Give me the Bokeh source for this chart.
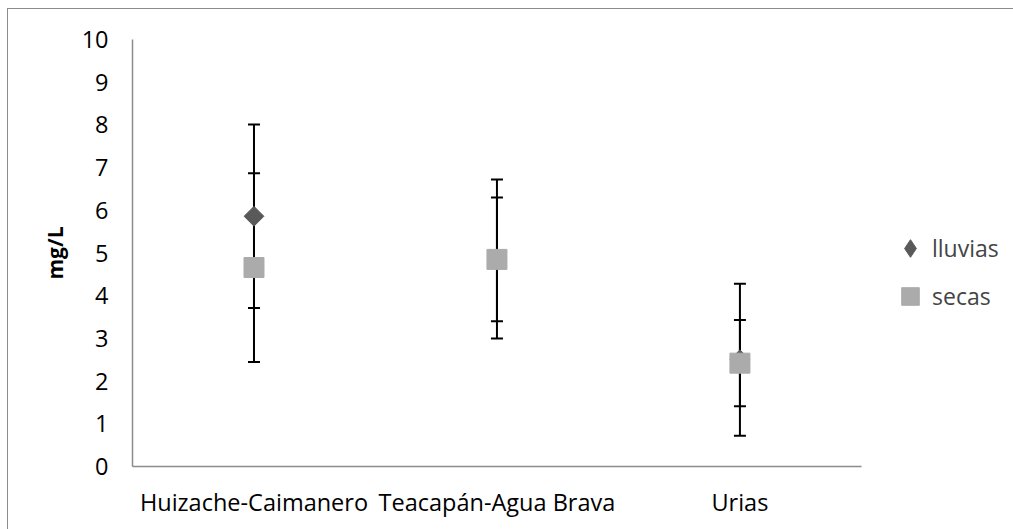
import math

from bokeh.embed import file_html
from bokeh.models import (ColumnDataSource, FixedTicker, Legend, LegendItem,
                          Range1d, TeeHead, Whisker)
from bokeh.plotting import figure
from bokeh.resources import INLINE

# Dissolved concentration (mg/L) per lagoon system, rainy vs dry season
sites = ["Huizache-Caimanero", "Teacapán-Agua Brava", "Urias"]
lluvias = [5.86, 4.86, 2.50]
lluvias_err = [2.15, 1.86, 1.78]
secas = [4.66, 4.85, 2.42]
secas_err = [2.21, 1.45, 1.01]
y_ticks = list(range(0, 11))

FONT = "Open Sans"
AXIS_GREY = "#8c8c8c"
LLUVIAS_COLOR = "#595959"
SECAS_COLOR = "#ababab"

# one unit per site, sites centred in their slots; the range runs on past
# the last slot to leave room for the legend inside the frame
site_x = [i + 0.5 for i in range(len(sites))]

p = figure(
    x_range=Range1d(0, 3.593), y_range=Range1d(0, 10),
    width=1005, height=520,
    margin=(9, 0, 0, 8),
    min_border_left=124, min_border_right=8,
    min_border_top=30, min_border_bottom=63,
    output_backend="svg", toolbar_location=None,
)
# grey frame around the whole chart area (right/bottom run off the page)
p.styles = {"outline": f"1.5px solid {AXIS_GREY}"}
p.outline_line_color = None
p.xgrid.visible = False
p.ygrid.visible = False
p.background_fill_color = "white"
p.border_fill_color = "white"

# axes
for ax in (p.xaxis[0], p.yaxis[0]):
    ax.axis_line_color = AXIS_GREY
    ax.axis_line_width = 1.5
    ax.major_tick_line_color = None
    ax.minor_tick_line_color = None
    ax.major_tick_in = 0
    ax.major_tick_out = 0
    ax.major_label_text_font = FONT
    ax.major_label_text_font_size = "23.5px"
    ax.major_label_text_color = "black"

p.xaxis.bounds = (0, len(sites))
p.xaxis.ticker = FixedTicker(ticks=site_x)
p.xaxis.major_label_overrides = dict(zip(site_x, sites))
p.xaxis.major_label_standoff = 19

p.yaxis.ticker = FixedTicker(ticks=y_ticks)
p.yaxis.major_label_standoff = 24
p.yaxis.axis_label = "mg/L"
p.yaxis.axis_label_text_font = FONT
p.yaxis.axis_label_text_font_style = "bold"
p.yaxis.axis_label_text_font_size = "21px"
p.yaxis.axis_label_text_color = "black"
p.yaxis.axis_label_standoff = 10

src_ll = ColumnDataSource(dict(
    x=site_x, y=lluvias,
    upper=[v + e for v, e in zip(lluvias, lluvias_err)],
    lower=[v - e for v, e in zip(lluvias, lluvias_err)],
))
src_se = ColumnDataSource(dict(
    x=site_x, y=secas,
    upper=[v + e for v, e in zip(secas, secas_err)],
    lower=[v - e for v, e in zip(secas, secas_err)],
))

# error bars, drawn beneath the markers
for src in (src_ll, src_se):
    w = Whisker(
        source=src, base="x", upper="upper", lower="lower",
        dimension="height", level="underlay",
        line_color="black", line_width=2,
        upper_head=TeeHead(size=12, line_color="black", line_width=2),
        lower_head=TeeHead(size=12, line_color="black", line_width=2),
    )
    p.add_layout(w)

r_ll = p.scatter("x", "y", source=src_ll, marker="square", size=14,
                 angle=math.pi / 4, fill_color=LLUVIAS_COLOR,
                 line_color=LLUVIAS_COLOR)
r_se = p.scatter("x", "y", source=src_se, marker="square", size=20,
                 fill_color=SECAS_COLOR, line_color=SECAS_COLOR)

# legend swatch for the rainy season (legend glyphs are drawn unrotated)
key_ll = p.scatter("x", "y", source=src_ll, marker="diamond", size=14,
                   fill_color=LLUVIAS_COLOR, line_color=LLUVIAS_COLOR,
                   visible=False)

legend = Legend(
    items=[LegendItem(label="lluvias", renderers=[key_ll]),
           LegendItem(label="secas", renderers=[r_se])],
    location=(756, 148),
    glyph_width=44, glyph_height=44, spacing=4,
    label_standoff=-13, padding=0, margin=0,
    border_line_color=None, background_fill_alpha=0,
    inactive_fill_alpha=0,
    label_text_font=FONT, label_text_font_size="23px",
)
p.add_layout(legend, "center")

open("out.html", "w").write(file_html(p, INLINE))
